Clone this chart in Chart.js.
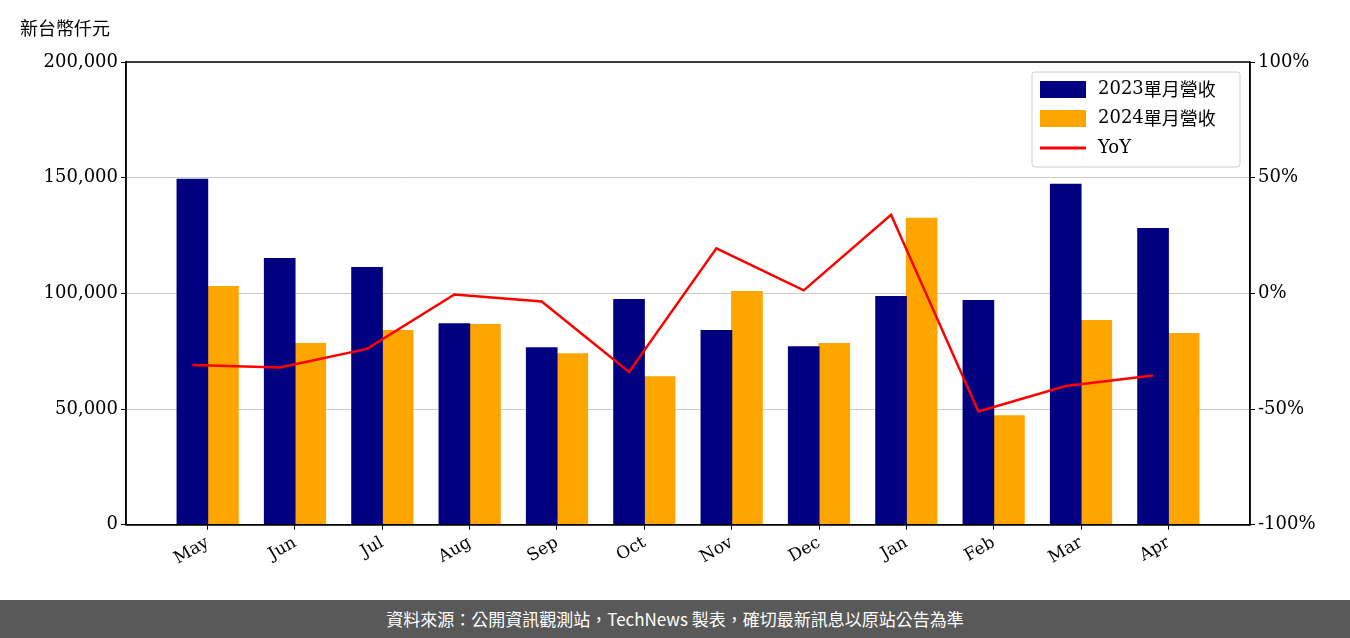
<!DOCTYPE html>
<html>
<head>
<meta charset="utf-8">
<script src="https://cdn.jsdelivr.net/npm/chart.js@4"></script>
<style>
body { margin: 0; width: 1350px; height: 638px; background: #fff; overflow: hidden; }
#wrap { position: relative; width: 1350px; height: 600px; }
#unit { position: absolute; left: 20px; top: 14px; font: 18px "Noto Sans CJK TC", sans-serif; color: #000; }
#foot { height: 38px; background: #595959; color: #fff; font: 17px "Noto Sans CJK TC", sans-serif; text-align: center; line-height: 38px; }
canvas { display: block; }
</style>
</head>
<body>
<div id="wrap"><div id="unit">新台幣仟元</div><canvas id="myChart" width="1350" height="600"></canvas></div>
<div id="foot">資料來源：公開資訊觀測站，TechNews 製表，確切最新訊息以原站公告為準</div>
<script>
var months = ["May", "Jun", "Jul", "Aug", "Sep", "Oct", "Nov", "Dec", "Jan", "Feb", "Mar", "Apr"];
var rev2023 = [149400, 115200, 111300, 87000, 76600, 97400, 84000, 77000, 98700, 97000, 147200, 128100];
var rev2024 = [103000, 78400, 84000, 86600, 74000, 64000, 100900, 78400, 132500, 47200, 88300, 82700];
var yoy = [-31, -32, -24, -0.5, -3.5, -34, 19.5, 1.3, 34, -51, -40, -35.5];

var serif = "'DejaVu Serif', serif";

// 2023 bar left of the month, 2024 bar right; YoY line sits on the 2023 bar
function shift(arr, d) {
    return arr.map(function (v, i) { return { x: i + d, y: v }; });
}

var legendBox = {
    id: 'legendBox',
    afterDraw: function (chart) {
        var ctx = chart.ctx;
        var a = chart.chartArea;
        ctx.save();
        ctx.strokeStyle = '#000';
        ctx.lineWidth = 1.5;
        ctx.strokeRect(a.left, a.top, a.right - a.left, a.bottom - a.top);

        var x = 1032, y = 72, w = 208, h = 95;
        ctx.fillStyle = 'rgba(255,255,255,0.85)';
        ctx.strokeStyle = '#ccc';
        ctx.lineWidth = 1;
        ctx.beginPath();
        ctx.roundRect(x, y, w, h, 3);
        ctx.fill();
        ctx.stroke();
        ctx.textBaseline = 'middle';
        ctx.fillStyle = '#000080';
        ctx.fillRect(x + 8, y + 9, 46, 17);
        ctx.fillStyle = '#ffa500';
        ctx.fillRect(x + 8, y + 38, 46, 17);
        ctx.strokeStyle = '#ff0000';
        ctx.lineWidth = 3;
        ctx.beginPath();
        ctx.moveTo(x + 8, y + 76);
        ctx.lineTo(x + 54, y + 76);
        ctx.stroke();
        ctx.fillStyle = '#000';
        ctx.font = "18px " + serif;
        ctx.fillText('2023', x + 66, y + 17);
        ctx.fillText('2024', x + 66, y + 46);
        ctx.fillText('YoY', x + 66, y + 76);
        var ww = ctx.measureText('2023').width;
        ctx.font = "18px 'Noto Sans CJK TC', sans-serif";
        ctx.fillText('單月營收', x + 66 + ww, y + 17);
        ctx.fillText('單月營收', x + 66 + ww, y + 46);
        ctx.restore();
    }
};

new Chart(document.getElementById('myChart'), {
    type: 'bar',
    plugins: [legendBox],
    data: {
        datasets: [
            {
                type: 'line',
                label: 'YoY',
                data: shift(yoy, -0.175),
                yAxisID: 'y2',
                borderColor: '#ff0000',
                borderWidth: 2.5,
                pointRadius: 0,
                tension: 0,
                order: 0
            },
            {
                label: '2023單月營收',
                data: shift(rev2023, -0.175),
                backgroundColor: '#000080',
                barThickness: 31,
                grouped: false,
                order: 1
            },
            {
                label: '2024單月營收',
                data: shift(rev2024, 0.175),
                backgroundColor: '#ffa500',
                barThickness: 31,
                grouped: false,
                order: 1
            }
        ]
    },
    options: {
        responsive: false,
        animation: false,
        devicePixelRatio: 1,
        layout: { padding: { top: 62, bottom: 28, left: 0, right: 0 } },
        plugins: { legend: { display: false }, tooltip: { enabled: false } },
        scales: {
            x: {
                type: 'linear',
                offset: false,
                min: -0.935,
                max: 11.935,
                afterBuildTicks: function (s) {
                    s.ticks = months.map(function (m, i) { return { value: i }; });
                },
                grid: { offset: false, drawOnChartArea: false, color: '#000', tickLength: 5 },
                border: { color: '#000', width: 1.5 },
                ticks: {
                    color: '#000',
                    font: { family: serif, size: 17 },
                    maxRotation: 30,
                    minRotation: 30,
                    callback: function (v) { return months[v]; }
                }
            },
            y: {
                position: 'left',
                min: 0,
                max: 200000,
                afterFit: function (s) { s.width = 126; },
                border: { color: '#000', width: 1.5 },
                grid: { color: '#ccc', lineWidth: 1, tickColor: '#000', tickLength: 5 },
                ticks: {
                    stepSize: 50000,
                    color: '#000',
                    font: { family: serif, size: 18 },
                    callback: function (v) { return v.toLocaleString('en-US'); }
                }
            },
            y2: {
                position: 'right',
                min: -100,
                max: 100,
                afterFit: function (s) { s.width = 100; },
                border: { color: '#000', width: 1.5 },
                grid: { drawOnChartArea: false, color: '#000', tickLength: 5 },
                ticks: {
                    stepSize: 50,
                    color: '#000',
                    font: { family: serif, size: 18 },
                    callback: function (v) { return v + '%'; }
                }
            }
        }
    }
});
</script>
</body>
</html>
